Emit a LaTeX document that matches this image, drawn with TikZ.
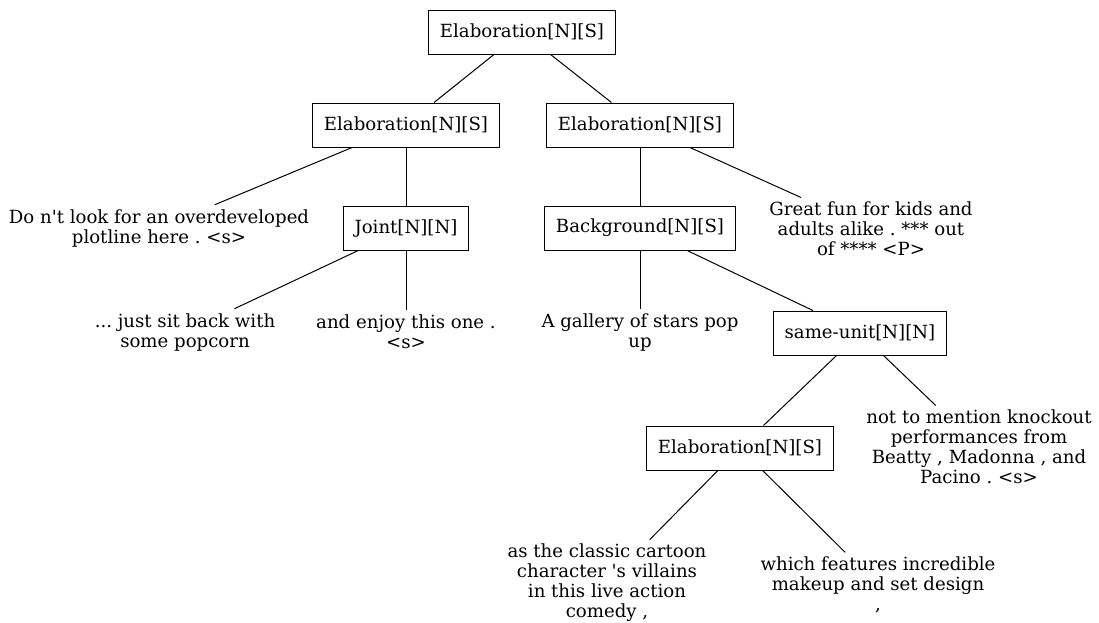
\documentclass[tikz,border=0pt]{standalone}
\usepackage{fontspec}
\setmainfont{DejaVu Serif}
\usetikzlibrary{calc}
\frenchspacing

\begin{document}
\begin{tikzpicture}[x=0.75pt,y=-0.75pt,line width=0.75pt,
  rel/.style={draw,black,rectangle,minimum height=33pt,inner xsep=8.5pt,font=\fontsize{13.6}{15}\selectfont},
  leaf/.style={align=center,inner sep=3pt,font=\fontsize{13.6}{15}\selectfont}]
\useasboundingbox (0,0) rectangle (1099,622);
% relation nodes
\node[rel] (root) at (522,32)  {Elaboration[N][S]};
\node[rel] (elabL) at (406,125) {Elaboration[N][S]};
\node[rel] (elabR) at (640,125) {Elaboration[N][S]};
\node[rel] (joint) at (406,228) {Joint[N][N]};
\node[rel] (backg) at (640,228) {Background[N][S]};
\node[rel] (same)  at (860,333) {same-unit[N][N]};
\node[rel] (elabB) at (740,448) {Elaboration[N][S]};
% text spans
\node[leaf] (look)    at (159,228) {Do n\textquotesingle t look for an overdeveloped\\plotline here . <s>};
\node[leaf] (fun)     at (871,229) {Great fun for kids and\\adults alike . *** out\\of **** <P>};
\node[leaf] (sit)     at (185,332) {... just sit back with\\some popcorn};
\node[leaf] (enjoy)   at (406,332) {and enjoy this one .\\<s>};
\node[leaf] (gallery) at (640,332) {A gallery of stars pop\\up};
\node[leaf] (mention) at (979,447) {not to mention knockout\\performances from\\Beatty , Madonna , and\\Pacino . <s>};
\node[leaf] (cartoon) at (607,583) {as the classic cartoon\\character \textquotesingle s villains\\in this live action\\comedy ,};
\node[leaf] (makeup)  at (878,585) {which features incredible\\makeup and set design\\,};
% edges
\foreach \a/\b in {root/elabL,root/elabR,elabL/look,elabL/joint,elabR/backg,elabR/fun,
  joint/sit,joint/enjoy,backg/gallery,backg/same,same/elabB,same/mention,
  elabB/cartoon,elabB/makeup}
  \draw[black] (\a) -- (\b);
\end{tikzpicture}
\end{document}
